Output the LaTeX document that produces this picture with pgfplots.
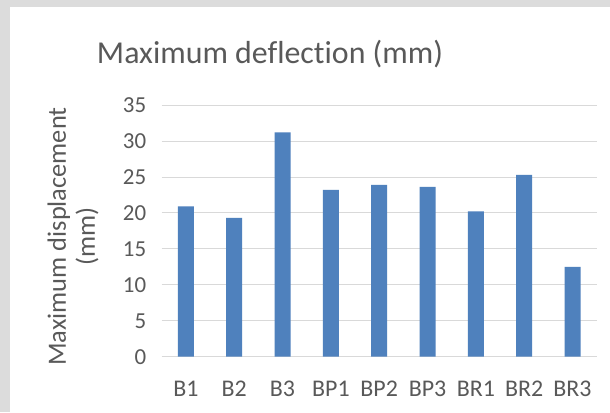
\documentclass[border=0pt]{standalone}
\usepackage{fontspec}
\setmainfont{Carlito}[Ligatures=NoCommon]
\usepackage{pgfplots}
\pgfplotsset{compat=1.18}
\definecolor{barblue}{HTML}{4F81BD}
\definecolor{txt}{HTML}{595959}
\definecolor{gridc}{HTML}{D9D9D9}
\definecolor{bg}{HTML}{DCDCDC}
\begin{document}
\begin{tikzpicture}[x=1bp,y=1bp]
\fill[bg] (0,0) rectangle (610,412);
\fill[white] (10,0) rectangle (610,405);
\node[text=txt,font=\fontsize{32}{36}\selectfont] at (270,358) {Maximum deflection (mm)};
\node[text=txt,font=\fontsize{26.5}{29}\selectfont,rotate=90,align=center] at (73,175.5) {Maximum displacement\\(mm)};
\begin{axis}[
  at={(161.7bp,55.3bp)}, anchor=south west,
  scale only axis, width=435bp, height=251.7bp,
  xmin=-0.5, xmax=8.5, ymin=0, ymax=35,
  ytick={0,5,...,35},
  xtick=data,
  xticklabels={B1,B2,B3,BP1,BP2,BP3,BR1,BR2,BR3},
  axis line style={draw=none},
  major tick length=0,
  ymajorgrids, grid style={gridc, line width=0.8pt},
  /pgf/number format/assume math mode=true,
  yticklabel style={text=txt,font=\fontsize{23}{25}\selectfont, xshift=-12bp},
  xticklabel style={text=txt,font=\fontsize{24}{26}\selectfont, anchor=base, yshift=-40bp},
  clip=false,
]
\addplot[ybar, bar width=16bp, fill=barblue, draw=none] coordinates {
 (0,20.9) (1,19.3) (2,31.2) (3,23.2) (4,23.9) (5,23.6) (6,20.2) (7,25.3) (8,12.5)
};
\end{axis}
\end{tikzpicture}
\end{document}
